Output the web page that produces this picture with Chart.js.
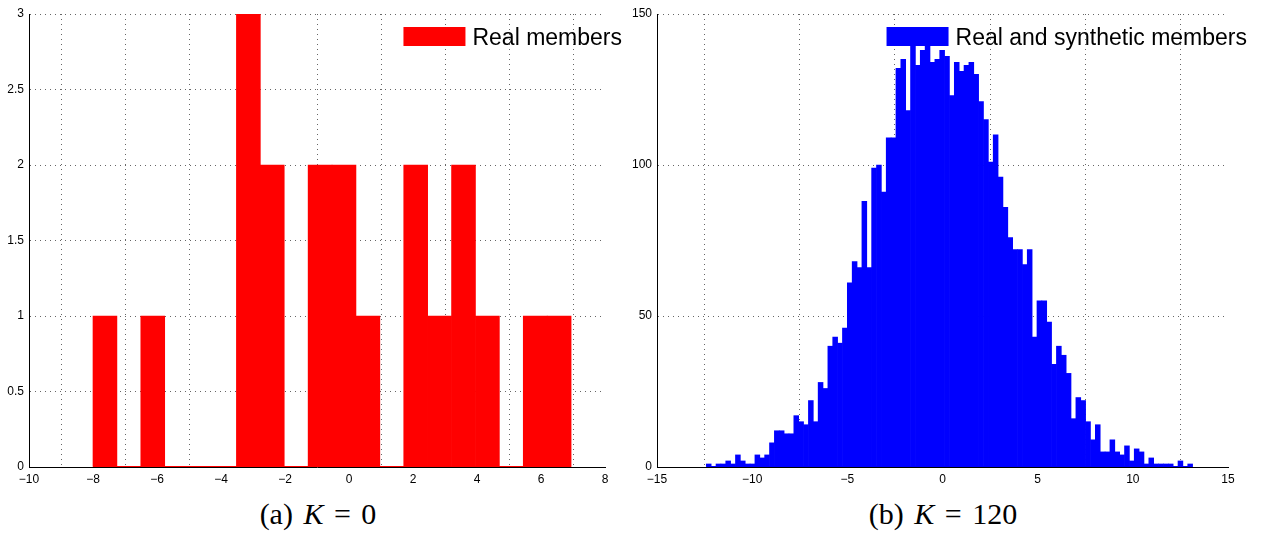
<!DOCTYPE html>
<html>
<head>
<meta charset="utf-8">
<script src="https://cdn.jsdelivr.net/npm/chart.js@4.4.1/dist/chart.umd.min.js"></script>
<style>
  body { margin: 0; background: #fff; width: 1265px; height: 533px; position: relative; overflow: hidden; }
  .panel { position: absolute; top: 0; }
  .caption { position: absolute; top: 497px; line-height: 34px; font-family: 'Liberation Serif', serif; font-size: 30px; word-spacing: 3px; color: #000; text-align: center; white-space: nowrap; }
</style>
</head>
<body>
<div class="panel" style="left:0"><canvas id="chartA" width="625" height="492"></canvas></div>
<div class="panel" style="left:625px"><canvas id="chartB" width="640" height="492"></canvas></div>
<div class="caption" style="left:218px; width:200px">(a) <i>K</i> = 0</div>
<div class="caption" style="left:843px; width:200px">(b) <i>K</i> = 120</div>
<script>
// (a) real members only, 20 bins
const realFirstEdge = -8.0;
const realLastEdge = 6.94;
const realCounts = [1, 0, 1, 0, 0, 0, 3, 2, 0, 2, 2, 1, 0, 2, 1, 2, 1, 0, 1, 1];
const realTicksX = [-10, -8, -6, -4, -2, 0, 2, 4, 6, 8];
const realTicksY = [0, 0.5, 1, 1.5, 2, 2.5, 3];

// (b) real and synthetic members, 100 bins
const synthFirstEdge = -12.41;
const synthLastEdge = 13.14;
const synthCounts = [
  1, 0, 1, 1, 2, 1, 4, 2, 1, 1,
  4, 3, 4, 8, 12, 12, 11, 11, 17, 15,
  14, 22, 15, 28, 26, 40, 43, 41, 46, 61,
  68, 66, 88, 66, 99, 100, 91, 109, 109, 132,
  135, 118, 141, 133, 138, 140, 134, 135, 138, 136,
  123, 134, 131, 133, 134, 130, 121, 115, 101, 110,
  96, 86, 76, 72, 72, 67, 72, 43, 55, 55,
  48, 34, 40, 37, 31, 16, 23, 22, 15, 9,
  14, 5, 5, 9, 5, 4, 7, 2, 6, 5,
  1, 3, 1, 1, 1, 1, 0, 2, 0, 1
];
const synthTicksX = [-15, -10, -5, 0, 5, 10, 15];
const synthTicksY = [0, 50, 100, 150];

Chart.defaults.font.family = "'Liberation Sans', Arial, sans-serif";
Chart.defaults.font.size = 12;
Chart.defaults.color = '#000';

function binned(first, last, counts) {
  const w = (last - first) / counts.length;
  return counts.map((c, i) => ({ x: first + w * (i + 0.5), y: c }));
}

function fmt(v) {
  return String(v).replace('-', '\u2212');
}

// matlab-style legend sitting inside the axes, top right
const boxLegend = {
  id: 'boxLegend',
  afterDatasetsDraw(chart, args, opts) {
    const ds = chart.data.datasets[0];
    const ctx = chart.ctx;
    const a = chart.chartArea;
    ctx.save();
    ctx.font = "23px 'Liberation Sans', Arial, sans-serif";
    const tw = ctx.measureText(ds.label).width;
    const textLeft = a.right + opts.overhang - tw;
    const top = a.top + opts.dy;
    ctx.fillStyle = ds.backgroundColor;
    ctx.fillRect(textLeft - 7 - 62, top, 62, 19);
    ctx.fillStyle = '#000';
    ctx.textBaseline = 'alphabetic';
    ctx.fillText(ds.label, textLeft, top + 18);
    ctx.restore();
  }
};

function axis(ticks, extra) {
  return Object.assign({
    type: 'linear',
    min: ticks[0],
    max: ticks[ticks.length - 1],
    offset: false,
    afterBuildTicks: s => { s.ticks = ticks.map(v => ({ value: v })); },
    ticks: { callback: fmt, autoSkip: false, maxRotation: 0 },
    grid: { color: '#666', lineWidth: 1, drawTicks: false },
    border: { display: true, color: '#000', width: 1, dash: [1, 4] }
  }, extra);
}

function histChart(id, label, colour, first, last, counts, ticksX, ticksY, yWidth, padRight, overhang, dy) {
  return new Chart(document.getElementById(id), {
    type: 'bar',
    data: {
      datasets: [
        {
          label: label,
          data: binned(first, last, counts),
          backgroundColor: colour,
          borderWidth: 0,
          barPercentage: 1.0,
          categoryPercentage: 1.0
        },
        {
          type: 'line',
          label: 'base',
          data: [{ x: first, y: 0 }, { x: last, y: 0 }],
          borderColor: colour,
          borderWidth: 2,
          pointRadius: 0
        }
      ]
    },
    options: {
      responsive: false,
      animation: false,
      devicePixelRatio: 1,
      layout: { padding: { top: 14, right: padRight, left: 0, bottom: 0 } },
      plugins: {
        legend: { display: false },
        tooltip: { enabled: false },
        boxLegend: { overhang: overhang, dy: dy }
      },
      scales: {
        x: axis(ticksX, {
          afterFit: s => { s.height = 25; },
          ticks: { callback: fmt, autoSkip: false, maxRotation: 0, padding: 5 }
        }),
        y: axis(ticksY, {
          afterFit: s => { s.width = yWidth; },
          ticks: { callback: fmt, autoSkip: false, padding: 5 }
        })
      }
    },
    plugins: [boxLegend]
  });
}

histChart('chartA', 'Real members', 'rgb(255,0,0)', realFirstEdge, realLastEdge, realCounts,
  realTicksX, realTicksY, 29, 20, 17, 13);
histChart('chartB', 'Real and synthetic members', 'rgb(0,0,255)', synthFirstEdge, synthLastEdge, synthCounts,
  synthTicksX, synthTicksY, 32, 37, 19, 13);
</script>
</body>
</html>
